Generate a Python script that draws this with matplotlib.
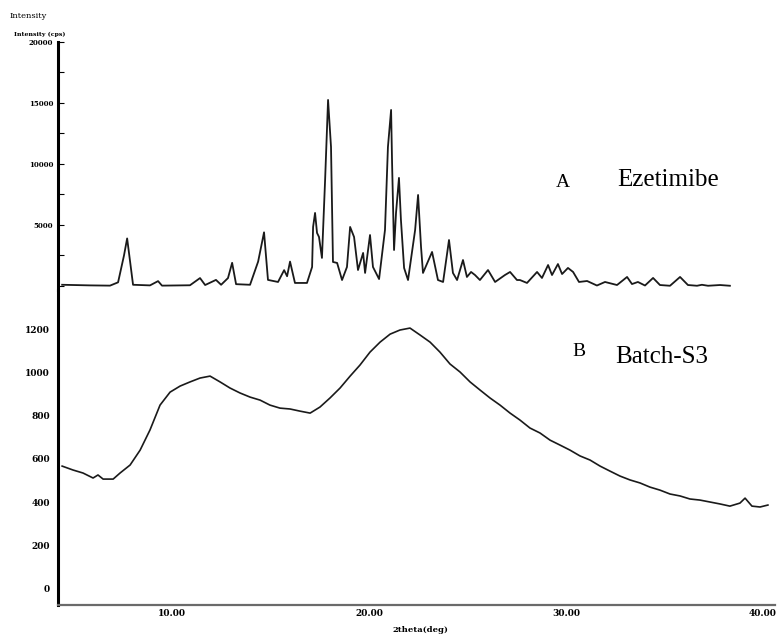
import matplotlib.pyplot as plt
from matplotlib.ticker import MultipleLocator

# picture size in px
W, H = 779, 638

# A: Ezetimibe (crystalline), counts
two_theta_a = [4.42, 5.84, 6.85, 7.26, 7.56, 7.72, 7.87, 8.02, 8.88, 9.29, 9.49,
               10.91, 11.42, 11.68, 12.23, 12.49, 12.84, 13.05, 13.25, 13.96,
               14.37, 14.67, 14.87, 15.38, 15.69, 15.84, 15.99, 16.24, 16.50,
               16.85, 17.11, 17.16, 17.26, 17.36, 17.46, 17.61, 17.77, 17.92,
               18.07, 18.17, 18.38, 18.63, 18.88, 19.04, 19.24, 19.44, 19.70,
               19.80, 20.05, 20.20, 20.51, 20.81, 20.96, 21.12, 21.17, 21.27,
               21.37, 21.52, 21.62, 21.78, 21.98, 22.34, 22.49, 22.64, 22.74,
               23.20, 23.50, 23.76, 24.06, 24.26, 24.47, 24.77, 24.97, 25.18,
               25.38, 25.63, 26.04, 26.40, 26.90, 27.16, 27.51, 27.66, 28.02,
               28.53, 28.78, 29.09, 29.29, 29.59, 29.80, 30.10, 30.36, 30.66,
               31.07, 31.57, 31.98, 32.59, 33.10, 33.35, 33.65, 34.01, 34.42,
               34.77, 35.28, 35.79, 36.19, 36.65, 36.90, 37.21, 37.82, 38.32]
counts_a = [100, 50, 30, 300, 2500, 3900, 2000, 100, 50, 400, 30,
            60, 650, 80, 500, 100, 650, 1900, 150, 100,
            2000, 4400, 500, 330, 1300, 800, 2000, 250, 250,
            250, 1560, 4840, 5990, 4350, 4020, 2300, 8690, 15250,
            11400, 1970, 1890, 490, 1560, 4840, 4020, 1310, 2710,
            1070, 4180, 1560, 570, 4590, 11400, 14430, 10090, 2950,
            5990, 8860, 5410, 1480, 490, 4590, 7460, 3200, 1070,
            2790, 490, 330, 3770, 1070, 490, 2130, 740, 1150,
            900, 490, 1310, 330, 900, 1150, 490, 490, 250,
            1150, 660, 1720, 900, 1800, 980, 1480, 1150, 330,
            410, 40, 330, 80, 740, 160, 330, 40, 660,
            80, 20, 740, 80, 20, 100, 20, 80, 20]

# B: Batch-S3 (amorphous)
two_theta_b = [4.42, 4.97, 5.48, 5.99, 6.24, 6.50, 7.01, 7.36, 7.87, 8.38, 8.88,
               9.39, 9.90, 10.41, 10.91, 11.42, 11.93, 12.44, 12.94, 13.45,
               13.96, 14.47, 14.97, 15.48, 15.99, 16.50, 17.01, 17.51, 18.02,
               18.53, 19.04, 19.54, 20.05, 20.56, 21.07, 21.57, 22.08, 22.59,
               23.10, 23.60, 24.11, 24.62, 25.13, 25.63, 26.14, 26.65, 27.16,
               27.66, 28.17, 28.68, 29.19, 29.70, 30.20, 30.71, 31.22, 31.73,
               32.23, 32.74, 33.25, 33.76, 34.26, 34.77, 35.28, 35.79, 36.29,
               36.80, 37.31, 37.82, 38.32, 38.83, 39.09, 39.44, 39.85, 40.25]
counts_b = [567, 549, 535, 512, 526, 507, 507, 535, 572, 641, 734,
            849, 909, 937, 956, 974, 983, 956, 928, 905,
            886, 872, 849, 835, 831, 821, 812, 840, 882,
            928, 983, 1034, 1094, 1140, 1177, 1196, 1205, 1173,
            1140, 1094, 1039, 1002, 956, 919, 882, 849, 812,
            780, 743, 720, 687, 664, 641, 614, 595, 567,
            544, 521, 503, 489, 470, 456, 438, 429, 415,
            410, 401, 392, 382, 396, 419, 382, 378, 387]

x_ticks = [10, 20, 30, 40]
x_labels = ['10.00', '20.00', '30.00', '40.00']
a_ticks = [5000, 10000, 15000, 20000]
b_ticks = [0, 200, 400, 600, 800, 1000, 1200]


def box(l, t, r, b):
    return [l / W, 1 - b / H, (r - l) / W, (b - t) / H]


fig = plt.figure(figsize=(W / 100, H / 100), dpi=100)
ax1 = fig.add_axes(box(58, 42, 775, 290))
ax2 = fig.add_axes(box(58, 290, 775, 605))

ax1.plot(two_theta_a, counts_a, color='#1a1a1a', lw=1.3)
ax2.plot(two_theta_b, counts_b, color='#1a1a1a', lw=1.2)

for ax in (ax1, ax2):
    ax.set_xlim(4.21, 40.61)
    ax.spines['top'].set_visible(False)
    ax.spines['right'].set_visible(False)
    ax.spines['left'].set_linewidth(2.2)

ax1.spines['bottom'].set_visible(False)
ax1.set_ylim(-328, 20000)
ax1.set_yticks(a_ticks)
ax1.yaxis.set_minor_locator(MultipleLocator(2500))
ax1.tick_params(axis='y', which='both', direction='in', length=4, width=0.8,
                labelsize=5)
ax1.tick_params(axis='x', bottom=False, labelbottom=False)
for t in ax1.get_yticklabels():
    t.set_fontweight('bold')
    t.set_family('DejaVu Serif')

ax2.set_ylim(-75, 1381)
ax2.set_yticks(b_ticks)
ax2.tick_params(axis='y', length=0, labelsize=6.5, pad=6)
ax2.spines['bottom'].set_linewidth(1.6)
ax2.spines['bottom'].set_color('#6a6a6a')
ax2.set_xticks(x_ticks)
ax2.set_xticklabels(x_labels)
ax2.tick_params(axis='x', length=0, labelsize=6.5, pad=3)
for t in ax2.get_yticklabels() + ax2.get_xticklabels():
    t.set_fontweight('bold')
    t.set_family('DejaVu Serif')

fig.text(10 / W, 1 - 16 / H, 'Intensity', fontsize=6, family='DejaVu Serif',
         va='center')
fig.text(14 / W, 1 - 34 / H, 'Intensity (cps)', fontsize=4.5, family='DejaVu Serif',
         fontweight='bold', va='center')
fig.text(420 / W, 1 - 630 / H, '2theta(deg)', fontsize=6, family='DejaVu Serif',
         fontweight='bold', ha='center', va='center')

fig.text(556 / W, 1 - 182 / H, 'A', fontsize=14, family='Liberation Serif',
         va='center')
fig.text(617 / W, 1 - 180 / H, 'Ezetimibe', fontsize=18, family='Liberation Serif',
         va='center')
fig.text(572 / W, 1 - 351 / H, 'B', fontsize=14, family='Liberation Serif',
         va='center')
fig.text(615 / W, 1 - 357 / H, 'Batch-S3', fontsize=18, family='Liberation Serif',
         va='center')

fig.savefig('out.png', dpi=100)
